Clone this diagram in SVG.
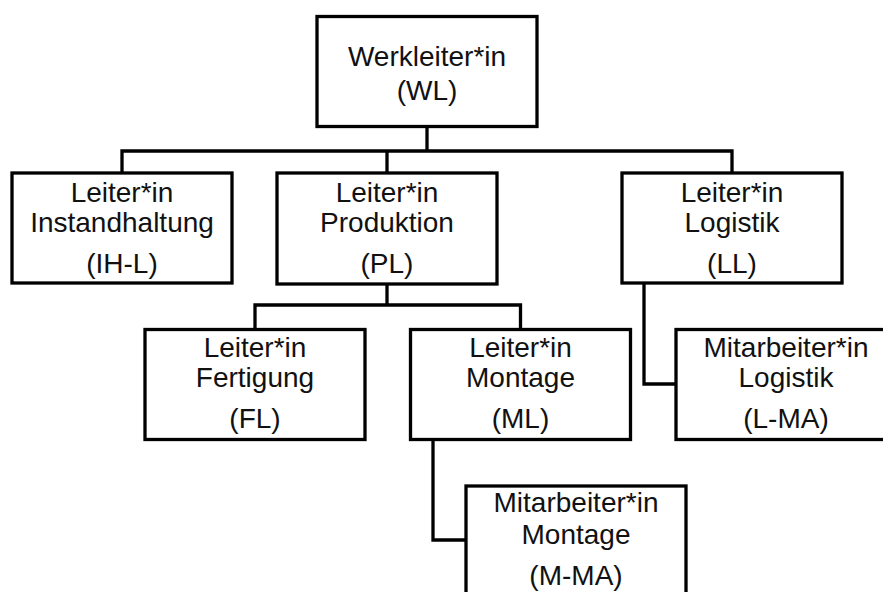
<svg xmlns="http://www.w3.org/2000/svg" width="883" height="592" viewBox="0 0 883 592">
<style>
.box{fill:#fff;stroke:#000;stroke-width:3.3}
.con{fill:none;stroke:#000;stroke-width:3.3;stroke-linecap:square}
text{font-family:"Liberation Sans",Arial,sans-serif;font-size:28px;fill:#111;text-anchor:middle}
</style>
<rect width="883" height="592" fill="#fff"/>
<g id="connectors">
<path class="con" d="M427 126.5V151M122 151H732M122 151V173M387 151V173M732 151V173"/>
<path class="con" d="M387 284V305M255 305H520.5M255 305V329.5M520.5 305V329.5"/>
<path class="con" d="M644 283V384H676"/>
<path class="con" d="M433 439.5V540H466"/>
</g>
<g id="WL">
<rect class="box" x="317" y="16.5" width="220" height="110"/>
<text x="427" y="66">Werkleiter*in</text>
<text x="427" y="99.5">(WL)</text>
</g>
<g id="IH-L">
<rect class="box" x="12" y="173" width="220" height="110"/>
<text x="122" y="201.5">Leiter*in</text>
<text x="122" y="231.5">Instandhaltung</text>
<text x="122" y="272.5">(IH-L)</text>
</g>
<g id="PL">
<rect class="box" x="277" y="173" width="220" height="111"/>
<text x="387" y="201.5">Leiter*in</text>
<text x="387" y="231.5">Produktion</text>
<text x="387" y="272.5">(PL)</text>
</g>
<g id="LL">
<rect class="box" x="622" y="173" width="220" height="110"/>
<text x="732" y="201.5">Leiter*in</text>
<text x="732" y="231.5">Logistik</text>
<text x="732" y="272.5">(LL)</text>
</g>
<g id="FL">
<rect class="box" x="145" y="329.5" width="220" height="110"/>
<text x="255" y="356.5">Leiter*in</text>
<text x="255" y="387">Fertigung</text>
<text x="255" y="428">(FL)</text>
</g>
<g id="ML">
<rect class="box" x="410.5" y="329.5" width="220" height="110"/>
<text x="520.5" y="356.5">Leiter*in</text>
<text x="520.5" y="387">Montage</text>
<text x="520.5" y="428">(ML)</text>
</g>
<g id="L-MA">
<rect class="box" x="676" y="329.5" width="220" height="110"/>
<text x="786" y="356.5">Mitarbeiter*in</text>
<text x="786" y="387">Logistik</text>
<text x="786" y="428">(L-MA)</text>
</g>
<g id="M-MA">
<rect class="box" x="466" y="486" width="220" height="110"/>
<text x="576" y="512">Mitarbeiter*in</text>
<text x="576" y="543.5">Montage</text>
<text x="576" y="585">(M-MA)</text>
</g>
</svg>
